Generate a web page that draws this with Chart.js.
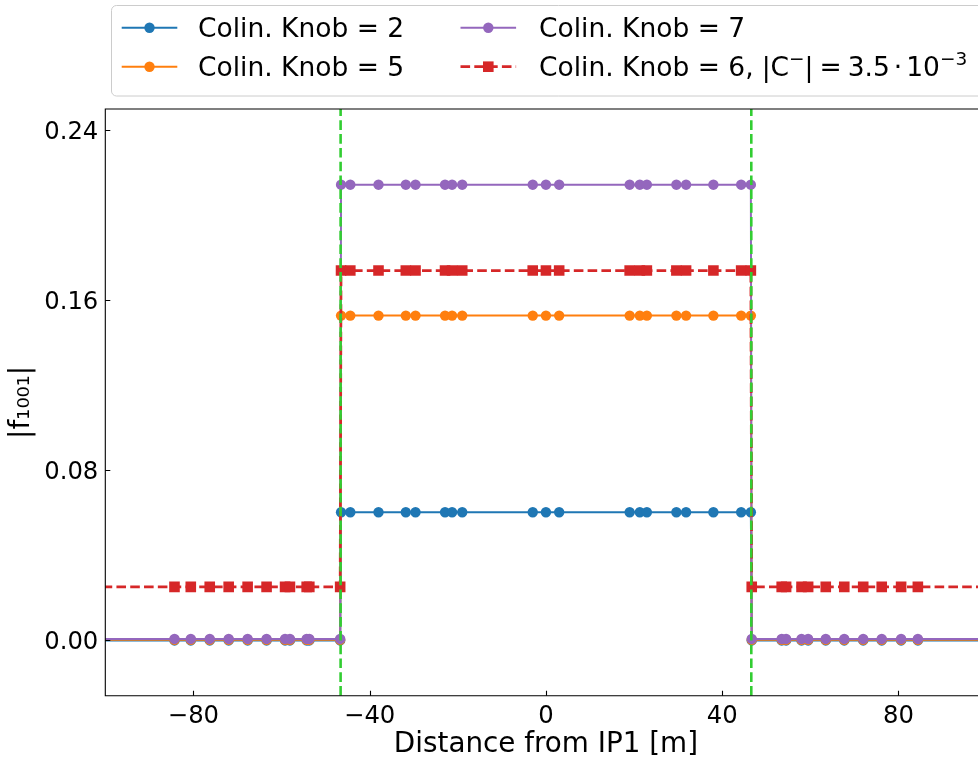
<!DOCTYPE html>
<html><head><meta charset="utf-8">
<script src="https://cdn.jsdelivr.net/npm/chart.js@4"></script>
<style>
html,body{margin:0;padding:0;background:#fff;overflow:hidden;}
#wrap{width:978px;height:758px;overflow:hidden;position:relative;}
canvas{display:block;}
</style></head>
<body><div id="wrap"><canvas id="c" width="1000" height="758"></canvas></div>
<script>
// ---- data ----
const positions = [
  -110, -84.3, -80.6, -76.3, -72.0, -67.7, -63.4, -59.2, -58.1, -54.3, -53.7, -46.7,
  -46.5, -44.4, -38.0, -31.8, -29.6, -22.9, -21.3, -19.0, -3.0, 0, 3.0, 19.0, 21.3, 22.9, 29.6, 31.8, 38.0, 44.3, 46.5,
  46.7, 53.5, 54.5, 58.0, 59.5, 63.5, 67.7, 72.0, 76.2, 80.6, 84.4, 110
];
const knob2Values = [
  0, 0, 0, 0, 0, 0, 0, 0, 0, 0, 0, 0,
  0.0603, 0.0603, 0.0603, 0.0603, 0.0603, 0.0603, 0.0603, 0.0603, 0.0603, 0.0603, 0.0603, 0.0603, 0.0603, 0.0603, 0.0603, 0.0603, 0.0603, 0.0603, 0.0603,
  0, 0, 0, 0, 0, 0, 0, 0, 0, 0, 0, 0
];
const knob5Values = [
  0.0003, 0.0003, 0.0003, 0.0003, 0.0003, 0.0003, 0.0003, 0.0003, 0.0003, 0.0003, 0.0003, 0.0003,
  0.1528, 0.1528, 0.1528, 0.1528, 0.1528, 0.1528, 0.1528, 0.1528, 0.1528, 0.1528, 0.1528, 0.1528, 0.1528, 0.1528, 0.1528, 0.1528, 0.1528, 0.1528, 0.1528,
  0.0003, 0.0003, 0.0003, 0.0003, 0.0003, 0.0003, 0.0003, 0.0003, 0.0003, 0.0003, 0.0003, 0.0003
];
const knob7Values = [
  0.0007, 0.0007, 0.0007, 0.0007, 0.0007, 0.0007, 0.0007, 0.0007, 0.0007, 0.0007, 0.0007, 0.0007,
  0.2144, 0.2144, 0.2144, 0.2144, 0.2144, 0.2144, 0.2144, 0.2144, 0.2144, 0.2144, 0.2144, 0.2144, 0.2144, 0.2144, 0.2144, 0.2144, 0.2144, 0.2144, 0.2144,
  0.0007, 0.0007, 0.0007, 0.0007, 0.0007, 0.0007, 0.0007, 0.0007, 0.0007, 0.0007, 0.0007, 0.0007
];
const knob6Values = [
  0.0252, 0.0252, 0.0252, 0.0252, 0.0252, 0.0252, 0.0252, 0.0252, 0.0252, 0.0252, 0.0252, 0.0252,
  0.1740, 0.1740, 0.1740, 0.1740, 0.1740, 0.1740, 0.1740, 0.1740, 0.1740, 0.1740, 0.1740, 0.1740, 0.1740, 0.1740, 0.1740, 0.1740, 0.1740, 0.1740, 0.1740,
  0.0252, 0.0252, 0.0252, 0.0252, 0.0252, 0.0252, 0.0252, 0.0252, 0.0252, 0.0252, 0.0252, 0.0252
];
const seriesLabels = ['Colin. Knob = 2', 'Colin. Knob = 5', 'Colin. Knob = 7', 'Colin. Knob = 6,'];
const boundaryPositions = [-46.6, 46.6];
const xTicks = [-80, -40, 0, 40, 80];
const yTicks = [0, 0.08, 0.16, 0.24];
const xRange = [-100, 100];
const yRange = [-0.026, 0.25];
const xTitle = 'Distance from IP1 [m]';
const yTitle = '|f\u2081\u2080\u2080\u2081|';

// ---- chart ----
const FONT = "'DejaVu Sans', sans-serif";
Chart.defaults.font.family = FONT;
Chart.defaults.color = '#000';

const toPts = ys => positions.map((x, i) => ({x: x, y: ys[i]}));
function lineDs(label, ys, color, order) {
  return {label, data: toPts(ys), showLine: true, borderColor: color, backgroundColor: color,
    borderWidth: 2, pointRadius: 5.2, pointHoverRadius: 5.2, pointBorderWidth: 0,
    pointBackgroundColor: color, order};
}
const datasets = [
  lineDs(seriesLabels[0], knob2Values, '#1f77b4', 4),
  lineDs(seriesLabels[1], knob5Values, '#ff7f0e', 3),
  lineDs(seriesLabels[2], knob7Values, '#9467bd', 2),
  Object.assign(lineDs(seriesLabels[3], knob6Values, '#d62728', 1), {
    borderDash: [9.6, 4.2], borderWidth: 2.7, pointStyle: 'rect', pointRadius: 7.5, pointHoverRadius: 7.5
  })
];
boundaryPositions.forEach(b => datasets.push({
  label: 'boundary', data: [{x: b, y: yRange[0]}, {x: b, y: yRange[1]}], showLine: true,
  borderColor: '#32cd32', borderWidth: 2.6, borderDash: [9.6, 4.2], pointRadius: 0, order: 0
}));

const frameTicks = {
  id: 'frameTicks',
  afterDatasetsDraw(chart) {
    const {ctx, chartArea: a} = chart;
    ctx.save();
    ctx.strokeStyle = '#000'; ctx.lineWidth = 1.1;
    ctx.beginPath();
    ctx.rect(a.left, a.top, a.right - a.left, a.bottom - a.top);
    ctx.stroke();
    const xs = chart.scales.x, ys = chart.scales.y;
    ctx.beginPath();
    xTicks.forEach(v => { const p = Math.round(xs.getPixelForValue(v)) + 0.5; ctx.moveTo(p, a.bottom); ctx.lineTo(p, a.bottom - 5); });
    yTicks.forEach(v => { const p = Math.round(ys.getPixelForValue(v)) + 0.5; ctx.moveTo(a.left, p); ctx.lineTo(a.left + 5, p); });
    ctx.stroke();
    ctx.restore();
  }
};

const mplLegend = {
  id: 'mplLegend',
  afterDraw(chart) {
    const ctx = chart.ctx;
    ctx.save();
    ctx.beginPath();
    ctx.roundRect(111.5, 5.5, 900, 90.5, 5);
    ctx.fillStyle = 'rgba(255,255,255,0.8)'; ctx.fill();
    ctx.strokeStyle = '#cccccc'; ctx.lineWidth = 1; ctx.stroke();
    const slots = [[0, 0], [0, 1], [1, 0], [1, 1]]; // [col,row] for datasets 0..3
    const handleX = [121.7, 460.5], textX = [198, 539], rowY = [27.7, 66.7], baseY = [37.3, 76.3];
    const font = "26.5px " + FONT;
    slots.forEach(([c, r], i) => {
      const ds = chart.data.datasets[i];
      const x0 = handleX[c], x1 = x0 + 55.6, y = rowY[r], xm = (x0 + x1) / 2;
      ctx.save();
      ctx.strokeStyle = ds.borderColor; ctx.lineWidth = ds.borderWidth;
      ctx.setLineDash(ds.borderDash || []);
      ctx.beginPath(); ctx.moveTo(x0, y); ctx.lineTo(x1, y); ctx.stroke();
      ctx.setLineDash([]);
      ctx.fillStyle = ds.borderColor;
      if (ds.pointStyle === 'rect') {
        const s = ds.pointRadius * Math.SQRT1_2;
        ctx.fillRect(xm - s, y - s, 2 * s, 2 * s);
      } else {
        ctx.beginPath(); ctx.arc(xm, y, ds.pointRadius, 0, Math.PI * 2); ctx.fill();
      }
      ctx.restore();
      ctx.fillStyle = '#000'; ctx.font = font; ctx.textBaseline = 'alphabetic'; ctx.textAlign = 'left';
      let x = textX[c];
      const by = baseY[r];
      ctx.fillText(ds.label, x, by);
      if (i === 3) {
        x += ctx.measureText(ds.label).width + 8;
        const sup = "18.5px " + FONT;
        const put = (t, f, dy, gap) => { ctx.font = f; ctx.fillText(t, x, by - dy); x += ctx.measureText(t).width + (gap || 0); };
        put('|C', font, 0);
        put('\u2212', sup, 11);
        put('|', font, 0, 6);
        put('=', font, 0, 6);
        put('3.5', font, 0, 4);
        put('\u00b7', font, 0, 4);
        put('10', font, 0);
        put('\u22123', sup, 11);
      }
    });
    ctx.restore();
  }
};

new Chart(document.getElementById('c'), {
  type: 'scatter',
  data: {datasets},
  options: {
    responsive: false, animation: false, devicePixelRatio: 1,
    layout: {padding: {left: 0, top: 109, right: 13.4, bottom: 0}},
    plugins: {legend: {display: false}, tooltip: {enabled: false}},
    scales: {
      x: {
        type: 'linear', min: xRange[0], max: xRange[1],
        afterBuildTicks: s => { s.ticks = xTicks.map(v => ({value: v})); },
        afterFit: s => { s.height = 62.3; },
        grid: {display: false, drawTicks: false}, border: {display: false},
        ticks: {padding: 6, font: {size: 24.3}, color: '#000', maxRotation: 0,
          callback: v => String(v).replace('-', '\u2212')},
        title: {display: true, text: xTitle, font: {size: 27.8, lineHeight: 1.15}, padding: {top: 0, bottom: -3}, color: '#000'}
      },
      y: {
        type: 'linear', min: yRange[0], max: yRange[1],
        afterBuildTicks: s => { s.ticks = yTicks.map(v => ({value: v})); },
        afterFit: s => { s.width = 105.3; },
        grid: {display: false, drawTicks: false}, border: {display: false},
        ticks: {padding: 7, labelOffset: 2.5, font: {size: 24.3}, color: '#000', callback: v => Number(v).toFixed(2)},
        title: {display: true, text: yTitle, font: {size: 27.8, lineHeight: 1.15}, padding: {top: 6, bottom: 0}, color: '#000'}
      }
    }
  },
  plugins: [frameTicks, mplLegend]
});
</script>
</body></html>
